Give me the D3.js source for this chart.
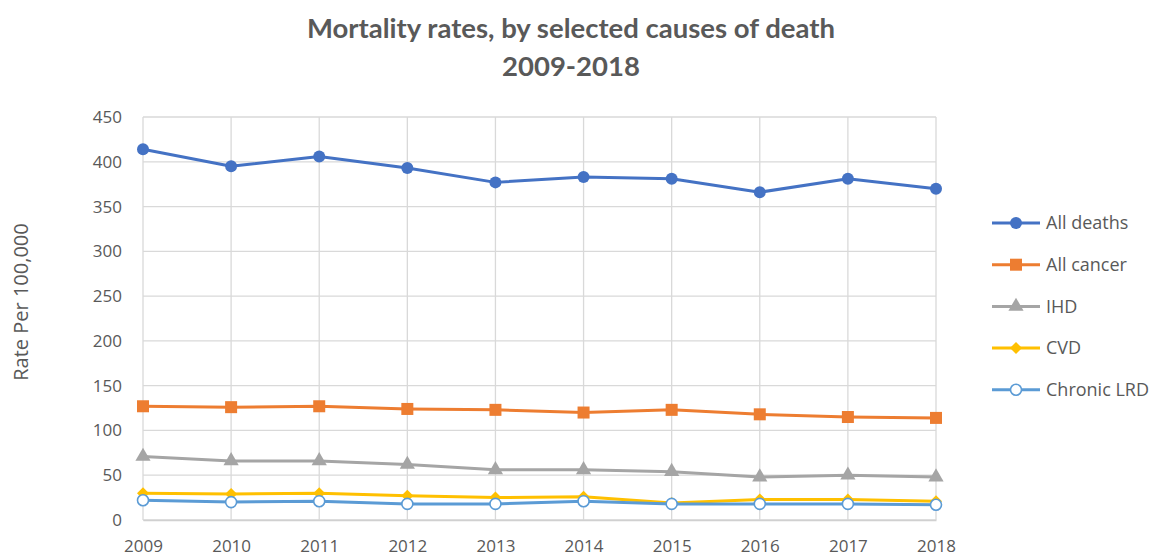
<!DOCTYPE html>
<html>
<head>
<meta charset="utf-8">
<script src="https://cdn.jsdelivr.net/npm/d3@7"></script>
<style>
  body { margin: 0; background: #fff; }
  text { font-family: "Open Sans", sans-serif; }
</style>
</head>
<body>
<div id="chart"></div>
<script>
let years = [2009, 2010, 2011, 2012, 2013, 2014, 2015, 2016, 2017, 2018];
let allDeaths = [414, 395, 406, 393, 377, 383, 381, 366, 381, 370];
let allCancer = [127, 126, 127, 124, 123, 120, 123, 118, 115, 114];
let ihd = [71, 66, 66, 62, 56, 56, 54, 48, 50, 48];
let cvd = [30, 29, 30, 27, 25, 26, 19, 23, 23, 21];
let chronicLrd = [22, 20, 21, 18, 18, 21, 18, 18, 18, 17];
let yTicks = [0, 50, 100, 150, 200, 250, 300, 350, 400, 450];

let series = [
    {name: "All deaths", values: allDeaths, color: "#4472C4", marker: "dot"},
    {name: "All cancer", values: allCancer, color: "#ED7D31", marker: "square"},
    {name: "IHD", values: ihd, color: "#A5A5A5", marker: "triangle"},
    {name: "CVD", values: cvd, color: "#FFC000", marker: "diamond"},
    {name: "Chronic LRD", values: chronicLrd, color: "#5B9BD5", marker: "ring"}
];

let W = 1155, H = 557;
let margin = {top: 117, left: 143, right: 219, bottom: 37};
let w = W - margin.left - margin.right;
let h = H - margin.top - margin.bottom;

let svg = d3.select("#chart")
            .append("svg")
            .attr("width", W)
            .attr("height", H);

let x = d3.scalePoint().domain(years).range([0, w]);
let y = d3.scaleLinear().domain([0, 450]).range([h, 0]);

let g = svg.append("g")
           .attr("transform", "translate(" + margin.left + "," + margin.top + ")");

// grid
g.append("g")
 .selectAll("line")
 .data(yTicks)
 .enter()
 .append("line")
 .attr("x1", 0).attr("x2", w)
 .attr("y1", d => y(d)).attr("y2", d => y(d))
 .style("stroke", "#d9d9d9")
 .style("stroke-width", 1.3);

g.append("g")
 .selectAll("line")
 .data(years)
 .enter()
 .append("line")
 .attr("x1", d => x(d)).attr("x2", d => x(d))
 .attr("y1", 0).attr("y2", h)
 .style("stroke", "#d9d9d9")
 .style("stroke-width", 1.3);

// axes
let yAxis = g.append("g")
             .call(d3.axisLeft(y).tickValues(yTicks).tickSize(0).tickPadding(21));
yAxis.select(".domain").remove();
yAxis.selectAll("text")
     .style("font-size", "17px")
     .style("fill", "#595959");

let xAxis = g.append("g")
             .attr("transform", "translate(0," + h + ")")
             .call(d3.axisBottom(x).tickSize(0).tickPadding(20));
xAxis.select(".domain").style("stroke", "#d0d0d0").style("stroke-width", 1.3);
xAxis.selectAll("text")
     .style("font-size", "17px")
     .style("fill", "#595959");

// lines
let line = d3.line()
             .x((d, i) => x(years[i]))
             .y(d => y(d));

function drawMarker(sel, s) {
    if (s.marker === "dot") {
        sel.append("circle").attr("r", 6).style("fill", s.color);
    } else if (s.marker === "square") {
        sel.append("rect").attr("x", -6).attr("y", -6).attr("width", 12).attr("height", 12)
           .style("fill", s.color);
    } else if (s.marker === "triangle") {
        sel.append("path").attr("d", d3.symbol().type(d3.symbolTriangle).size(100))
           .style("fill", s.color);
    } else if (s.marker === "diamond") {
        sel.append("path").attr("d", "M0,-6L6,0L0,6L-6,0Z").style("fill", s.color);
    } else {
        sel.append("circle").attr("r", 5.5).style("fill", "#fff")
           .style("stroke", s.color).style("stroke-width", 1.6);
    }
}

series.forEach(function(s) {
    let sg = g.append("g");
    sg.append("path")
      .datum(s.values)
      .attr("d", line)
      .style("fill", "none")
      .style("stroke", s.color)
      .style("stroke-width", 3)
      .style("stroke-linejoin", "round");
    sg.selectAll("g")
      .data(s.values)
      .enter()
      .append("g")
      .attr("transform", (d, i) => "translate(" + x(years[i]) + "," + y(d) + ")")
      .each(function() { drawMarker(d3.select(this), s); });
});

// legend
let legend = svg.append("g")
                .attr("transform", "translate(992,223)");
series.forEach(function(s, i) {
    let lg = legend.append("g").attr("transform", "translate(0," + (i * 41.7) + ")");
    lg.append("line")
      .attr("x1", 0).attr("x2", 48)
      .style("stroke", s.color)
      .style("stroke-width", 3);
    let m = lg.append("g").attr("transform", "translate(24,0)");
    drawMarker(m, s);
    lg.append("text")
      .attr("x", 54)
      .attr("dy", "0.35em")
      .style("font-size", "18px")
      .style("fill", "#595959")
      .text(s.name);
});

// titles
svg.append("text")
   .attr("x", 571).attr("y", 38)
   .attr("text-anchor", "middle")
   .style("font-family", "Lato, sans-serif")
   .style("font-size", "27.5px")
   .style("font-weight", "bold")
   .style("fill", "#595959")
   .text("Mortality rates, by selected causes of death");
svg.append("text")
   .attr("x", 571).attr("y", 76)
   .attr("text-anchor", "middle")
   .style("font-family", "Lato, sans-serif")
   .style("font-size", "27.5px")
   .style("font-weight", "bold")
   .style("fill", "#595959")
   .text("2009-2018");

svg.append("text")
   .attr("transform", "translate(28,302) rotate(-90)")
   .attr("text-anchor", "middle")
   .style("font-size", "20px")
   .style("fill", "#595959")
   .text("Rate Per 100,000");
</script>
</body>
</html>
